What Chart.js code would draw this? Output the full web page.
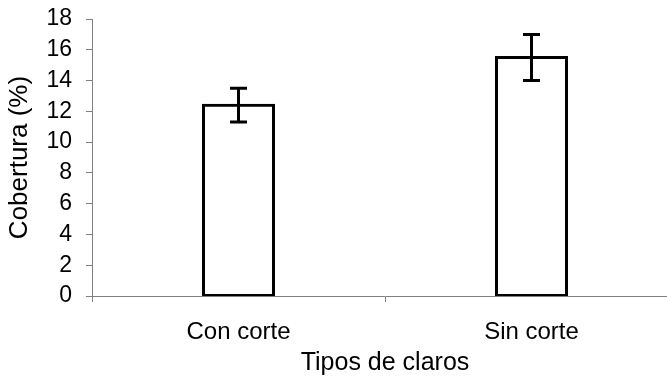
<!DOCTYPE html>
<html>
<head>
<meta charset="utf-8">
<script src="https://cdn.jsdelivr.net/npm/chart.js@4/dist/chart.umd.min.js"></script>
<style>
  html, body { margin: 0; padding: 0; background: #fff; }
  #wrap { width: 667px; height: 378px; overflow: hidden; position: relative; }
  #box { width: 700px; height: 378px; }
</style>
</head>
<body>
<div id="wrap"><div id="box"><canvas id="chart"></canvas></div></div>
<script>
// --- data
const categories = ["Con corte", "Sin corte"];
const coverage = [12.4, 15.5];
const coverageErr = [1.1, 1.5];
const yTicks = [0, 2, 4, 6, 8, 10, 12, 14, 16, 18];

const axisGray = "#808080";
const font = "'Liberation Sans', Arial, sans-serif";

// error bars drawn from the data through the scales
const errorBars = {
  id: "errorBars",
  afterDatasetsDraw(chart) {
    const { ctx, scales: { x, y } } = chart;
    ctx.save();
    ctx.strokeStyle = "#000";
    ctx.lineWidth = 3;
    coverage.forEach((v, i) => {
      const cx = x.getPixelForValue(i);
      const top = y.getPixelForValue(v + coverageErr[i]);
      const bot = y.getPixelForValue(v - coverageErr[i]);
      ctx.beginPath();
      ctx.moveTo(cx, top); ctx.lineTo(cx, bot);
      ctx.moveTo(cx - 8.5, top); ctx.lineTo(cx + 8.5, top);
      ctx.moveTo(cx - 8.5, bot); ctx.lineTo(cx + 8.5, bot);
      ctx.stroke();
    });
    ctx.restore();
  }
};

new Chart(document.getElementById("chart"), {
  type: "bar",
  data: {
    labels: categories,
    datasets: [{
      data: coverage,
      backgroundColor: "#fff",
      borderColor: "#000",
      borderWidth: 3,
      borderSkipped: false,
      inflateAmount: 1.5,
      barThickness: 70
    }]
  },
  options: {
    responsive: true,
    maintainAspectRatio: false,
    animation: false,
    layout: { padding: { top: 19, right: 22, left: 0, bottom: 0 } },
    plugins: { legend: { display: false }, tooltip: { enabled: false } },
    scales: {
      x: {
        offset: true,
        grid: { offset: true, drawOnChartArea: false, color: axisGray, tickLength: 6, lineWidth: 1 },
        border: { color: axisGray, width: 1 },
        ticks: { color: "#000", font: { family: font, size: 24 }, padding: 16 },
        title: { display: true, text: "Tipos de claros", color: "#000", font: { family: font, size: 25 }, padding: { top: 0, bottom: 0 } },
        afterFit(s) { s.height = 82; s.paddingLeft = 0; s.paddingRight = 0; }
      },
      y: {
        min: 0,
        max: 18,
        afterBuildTicks(s) { s.ticks = yTicks.map(v => ({ value: v })); },
        grid: { drawOnChartArea: false, color: axisGray, tickLength: 6, lineWidth: 1 },
        border: { color: axisGray, width: 1 },
        ticks: { color: "#000", font: { family: font, size: 23 }, padding: 14, autoSkip: false },
        title: { display: true, text: "Cobertura (%)", color: "#000", font: { family: font, size: 26 }, padding: { bottom: 0 } },
        afterFit(s) { s.width = 92; s.paddingTop = 0; s.paddingBottom = 0; }
      }
    }
  },
  plugins: [errorBars]
});
</script>
</body>
</html>
